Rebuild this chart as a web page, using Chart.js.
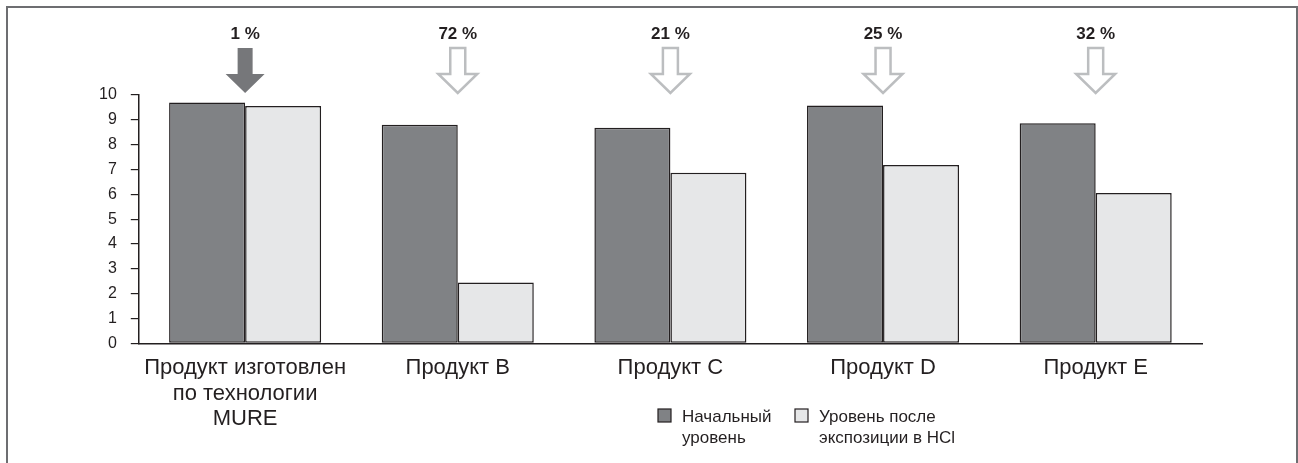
<!DOCTYPE html>
<html>
<head>
<meta charset="utf-8">
<script src="https://cdn.jsdelivr.net/npm/chart.js@4.4.0/dist/chart.umd.min.js"></script>
<style>
  html, body { margin: 0; padding: 0; background: #fff; }
  #wrap { width: 1298px; height: 463px; position: relative; }
</style>
</head>
<body>
<div id="wrap"><canvas id="chart"></canvas></div>
<script>
// data
var categories = [
  ['Продукт изготовлен', 'по технологии', 'MURE'],
  'Продукт B',
  'Продукт C',
  'Продукт D',
  'Продукт E'
];
var initialLevel = [9.7, 8.8, 8.68, 9.58, 8.86];
var afterHCl = [9.56, 2.45, 6.87, 7.18, 6.06];
var lossLabels = ['1 %', '72 %', '21 %', '25 %', '32 %'];
var seriesNames = [['Начальный', 'уровень'], ['Уровень после', 'экспозиции в HCl']];
var yTicks = [0, 1, 2, 3, 4, 5, 6, 7, 8, 9, 10];

var INK = '#231f20',
  DARK = '#808285',
  LIGHT = '#e6e7e8',
  ARROW_DARK = '#76777a',
  ARROW_LIGHT = '#bcbec0',
  FONT = '"Liberation Sans", Arial, sans-serif';

var overlay = {
  id: 'overlay',
  afterDraw: function (chart) {
    var c = chart.ctx,
      area = chart.chartArea,
      x = chart.scales.x;
    c.save();

    // outer frame
    c.strokeStyle = '#6d6e71';
    c.lineWidth = 2;
    c.strokeRect(7, 7, 1290, 470);

    // arrows + percentages
    for (var i = 0; i < lossLabels.length; i++) {
      var cx = x.getPixelForValue(i),
        tip = area.top - 2,
        headTop = tip - 19,
        shaftTop = tip - 45,
        sw = 7.5,
        hw = 19.5;
      c.beginPath();
      c.moveTo(cx - sw, shaftTop);
      c.lineTo(cx + sw, shaftTop);
      c.lineTo(cx + sw, headTop);
      c.lineTo(cx + hw, headTop);
      c.lineTo(cx, tip);
      c.lineTo(cx - hw, headTop);
      c.lineTo(cx - sw, headTop);
      c.closePath();
      if (i === 0) {
        c.fillStyle = ARROW_DARK;
        c.fill();
      } else {
        c.fillStyle = '#fff';
        c.fill();
        c.strokeStyle = ARROW_LIGHT;
        c.lineWidth = 2.5;
        c.lineJoin = 'miter';
        c.stroke();
      }
      c.fillStyle = INK;
      c.font = 'bold 17px ' + FONT;
      c.textAlign = 'center';
      c.textBaseline = 'middle';
      c.fillText(lossLabels[i], cx, shaftTop - 14);
    }

    // legend
    var boxes = [
      { x: 658, fill: DARK },
      { x: 795, fill: LIGHT }
    ];
    c.font = '17px ' + FONT;
    c.textAlign = 'left';
    c.textBaseline = 'middle';
    for (var j = 0; j < boxes.length; j++) {
      c.fillStyle = boxes[j].fill;
      c.fillRect(boxes[j].x, 409, 13, 13);
      c.strokeStyle = INK;
      c.lineWidth = 1.2;
      c.strokeRect(boxes[j].x, 409, 13, 13);
      c.fillStyle = INK;
      for (var k = 0; k < seriesNames[j].length; k++) {
        c.fillText(seriesNames[j][k], boxes[j].x + 24, 417 + k * 21);
      }
    }
    c.restore();
  }
};

new Chart(document.getElementById('chart'), {
  type: 'bar',
  data: {
    labels: categories,
    datasets: [
      {
        label: seriesNames[0].join(' '),
        data: initialLevel,
        backgroundColor: DARK,
        borderColor: INK,
        borderWidth: 1.5,
        borderSkipped: false
      },
      {
        label: seriesNames[1].join(' '),
        data: afterHCl,
        backgroundColor: LIGHT,
        borderColor: INK,
        borderWidth: 1.5,
        borderSkipped: false
      }
    ]
  },
  options: {
    responsive: true,
    maintainAspectRatio: false,
    animation: false,
    categoryPercentage: 0.715,
    barPercentage: 1,
    layout: { padding: { top: 95, right: 96, bottom: 27, left: 85 } },
    plugins: { legend: { display: false }, tooltip: { enabled: false } },
    scales: {
      x: {
        grid: { display: false },
        border: { display: true, color: INK, width: 1.5 },
        ticks: {
          color: INK,
          font: { family: FONT, size: 22, lineHeight: 1.16 },
          padding: 4,
          maxRotation: 0,
          autoSkip: false
        }
      },
      y: {
        min: 0,
        max: 10,
        afterBuildTicks: function (s) {
          s.ticks = yTicks.map(function (v) { return { value: v }; });
        },
        grid: {
          drawOnChartArea: false,
          drawTicks: true,
          tickLength: 8,
          color: INK,
          lineWidth: 1.2
        },
        border: { display: true, color: INK, width: 1.5 },
        ticks: {
          color: INK,
          font: { family: FONT, size: 16 },
          padding: 14
        }
      }
    }
  },
  plugins: [overlay]
});
</script>
</body>
</html>
